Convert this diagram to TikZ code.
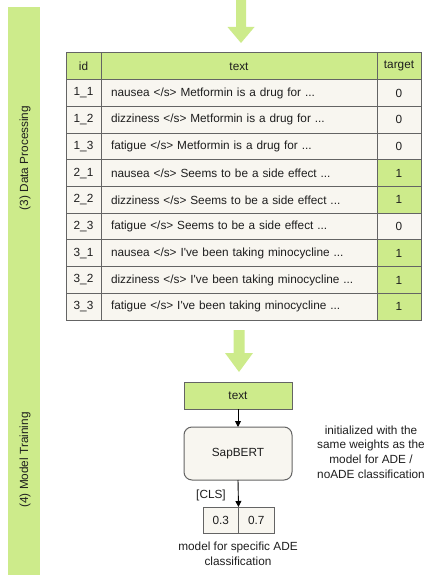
\documentclass[tikz,border=0pt]{standalone}
\usepackage{fontspec}
\setmainfont{Liberation Sans}
\usetikzlibrary{arrows.meta}
\definecolor{lgreen}{RGB}{205,235,139}
\definecolor{cellbg}{RGB}{248,246,240}
\definecolor{bordergray}{RGB}{100,100,100}
\definecolor{txtcol}{RGB}{30,30,30}
\newcommand\tabrow[5]{%
  \node[cell, minimum width=35pt] (id#1) at (66,{53+#1*26.7}) {#2};
  \node[cell, minimum width=276pt, text width=256pt, align=left] (tx#1) at (101,{53+#1*26.7}) {#3};
  \node[cell, minimum width=44pt, fill=#5] (tg#1) at (377,{53+#1*26.7}) {#4};
}
\begin{document}
\begin{tikzpicture}[x=1pt,y=-1pt,
  font=\fontsize{11.8}{14}\selectfont, text=txtcol,
  cell/.style={draw=bordergray, line width=1pt, fill=cellbg, minimum height=26.7pt,
    inner sep=0pt, outer sep=0pt, anchor=north west},
  bigarrow/.style={fill=lgreen, draw=none},
  smallarrow/.style={draw=black, line width=0.9pt, -{Triangle[width=6pt,length=6pt]}},
  plain/.style={align=center, inner sep=0pt, font=\fontsize{11.8}{14.8}\selectfont}]
\useasboundingbox (0,0) rectangle (428,575);
% left bar
\fill[lgreen] (8,6.7) rectangle (40,575);
\node[rotate=90, inner sep=0pt] (lab3) at (25,158) {(3) Data Processing};
\node[rotate=90, inner sep=0pt] (lab4) at (25,460) {(4) Model Training};
% top arrow
\fill[bigarrow] (236,0) -- (246,0) -- (246,27) -- (254.5,27) -- (241,43) -- (227.5,27) -- (236,27) -- cycle;
% header
\node[cell, minimum width=35pt, fill=lgreen] (hid) at (66,53) {id};
\node[cell, minimum width=276pt, fill=lgreen] (htx) at (101,53) {text};
\node[cell, minimum width=44pt, fill=lgreen] (htg) at (377,53) {target};
\tabrow{1}{1\_1}{nausea </s> Metformin is a drug for ...}{0}{cellbg}
\tabrow{2}{1\_2}{dizziness </s> Metformin is a drug for ...}{0}{cellbg}
\tabrow{3}{1\_3}{fatigue </s> Metformin is a drug for ...}{0}{cellbg}
\tabrow{4}{2\_1}{nausea </s> Seems to be a side effect ...}{1}{lgreen}
\tabrow{5}{2\_2}{dizziness </s> Seems to be a side effect ...}{1}{lgreen}
\tabrow{6}{2\_3}{fatigue </s> Seems to be a side effect ...}{0}{cellbg}
\tabrow{7}{3\_1}{nausea </s> I\textquotesingle ve been taking minocycline ...}{1}{lgreen}
\tabrow{8}{3\_2}{dizziness </s> I\textquotesingle ve been taking minocycline ...}{1}{lgreen}
\tabrow{9}{3\_3}{fatigue </s> I\textquotesingle ve been taking minocycline ...}{1}{lgreen}
% second arrow
\fill[bigarrow] (233.5,330) -- (244.5,330) -- (244.5,353) -- (253,353) -- (239,372) -- (225,353) -- (233.5,353) -- cycle;
% model
\node[cell, minimum width=108pt, minimum height=27pt, fill=lgreen] (txt) at (184,382) {text};
\node[cell, minimum width=108pt, minimum height=53pt, rounded corners=8pt] (sap) at (184,427) {SapBERT};
\node[cell, minimum width=35.5pt, minimum height=26pt] (o1) at (203,507) {0.3};
\node[cell, minimum width=35.5pt, minimum height=26pt] (o2) at (238.5,507) {0.7};
\draw[smallarrow] (txt.south) -- (sap.north);
\draw[smallarrow] (sap.south) -- (o1.north east);
\node[inner sep=0pt] (cls) at (211,495) {[CLS]};
\node[plain] (cap) at (238,554) {model for specific ADE\\classification};
\node[plain] (note) at (371,452) {initialized with the\\same weights as the\\model for ADE /\\noADE classification};
\end{tikzpicture}
\end{document}
